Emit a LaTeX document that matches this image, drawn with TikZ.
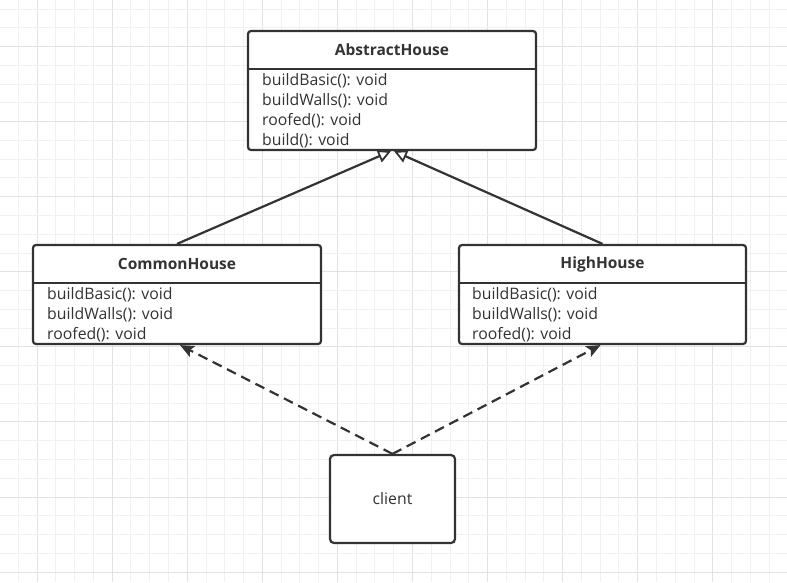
\documentclass[tikz,border=0pt]{standalone}
\usepackage{fontspec}
\setmainfont{Open Sans}
\usetikzlibrary{arrows.meta}

\definecolor{ink}{HTML}{333333}
\definecolor{gridminor}{HTML}{F1F1F1}
\definecolor{gridmajor}{HTML}{E2E2E2}

\tikzset{
  classbox/.style={draw=ink, line width=2.2pt, rounded corners=3pt, fill=white,
    minimum width=#1, minimum height=99pt, inner sep=0pt},
  boxline/.style={draw=ink, line width=2.2pt},
  classtitle/.style={text=ink, font=\fontsize{15.5}{18}\selectfont\bfseries, inner sep=0pt},
  member/.style={text=ink, font=\fontsize{15.8}{18}\selectfont, anchor=base west, inner sep=0pt},
  inherit/.style={draw=ink, line width=2.2pt, -{Triangle[open, length=13pt, width=13pt, line width=1.8pt]}},
  depends/.style={draw=ink, line width=2.2pt, dash pattern=on 10pt off 6pt,
    -{Stealth[length=14pt, width=12pt, inset=3pt]}}
}

\begin{document}
\begin{tikzpicture}[x=1pt, y=-1pt]

    % Canvas and grid
    \useasboundingbox (0,0) rectangle (787,582);
    \fill[white] (0,0) rectangle (787,582);
    \foreach \i in {0,...,41} {
        \pgfmathsetmacro{\gx}{18.3+18.77*\i}
        \pgfmathtruncatemacro{\r}{mod(\i+3,4)}
        \ifnum\r=0
            \draw[gridmajor, line width=1pt] (\gx,0) -- (\gx,582);
        \else
            \draw[gridminor, line width=1pt] (\gx,0) -- (\gx,582);
        \fi
    }
    \foreach \j in {0,...,31} {
        \pgfmathsetmacro{\gy}{9+18.77*\j}
        \pgfmathtruncatemacro{\r}{mod(\j+2,4)}
        \ifnum\r=0
            \draw[gridmajor, line width=1pt] (0,\gy) -- (787,\gy);
        \else
            \draw[gridminor, line width=1pt] (0,\gy) -- (787,\gy);
        \fi
    }

    % AbstractHouse
    \node[classbox=288pt, minimum height=119pt] (abstract) at (392,90.5) {};
    \node[classtitle] (abstracttitle) at (392,50) {AbstractHouse};
    \draw[boxline] (abstract.west |- 0,69) -- (abstract.east |- 0,69);
    \foreach \op [count=\i] in {buildBasic(): void, buildWalls(): void, roofed(): void, build(): void}
        \node[member] (abstractop\i) at (262,65+20*\i) {\op};

    % CommonHouse
    \node[classbox=288pt] (common) at (177,294.5) {};
    \node[classtitle] (commontitle) at (177,264) {CommonHouse};
    \draw[boxline] (common.west |- 0,283) -- (common.east |- 0,283);
    \foreach \op [count=\i] in {buildBasic(): void, buildWalls(): void, roofed(): void}
        \node[member] (commonop\i) at (47,279+20*\i) {\op};

    % HighHouse
    \node[classbox=287pt] (high) at (602.5,294.5) {};
    \node[classtitle] (hightitle) at (602.5,264) {HighHouse};
    \draw[boxline] (high.west |- 0,283) -- (high.east |- 0,283);
    \foreach \op [count=\i] in {buildBasic(): void, buildWalls(): void, roofed(): void}
        \node[member] (highop\i) at (472,279+20*\i) {\op};

    % client
    \node[classbox=125pt, minimum height=88pt, rounded corners=4pt,
          text=ink, font=\fontsize{15.8}{18}\selectfont] (client) at (392.5,499) {client};

    % Generalisation
    \draw[inherit] (common.north) -- ([xshift=-1pt]abstract.south);
    \draw[inherit] (high.north) -- ([xshift=2pt]abstract.south);

    % Dependencies
    \draw[depends] (client.north) -- ([xshift=3pt]common.south);
    \draw[depends] (client.north) -- ([xshift=-2pt]high.south);

\end{tikzpicture}
\end{document}
